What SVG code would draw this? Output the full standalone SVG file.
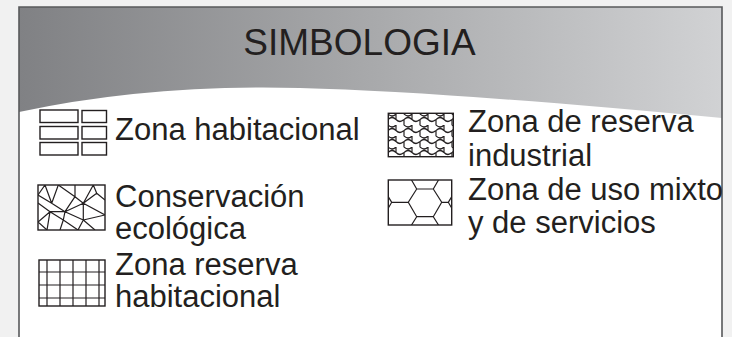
<svg xmlns="http://www.w3.org/2000/svg" width="732" height="337" viewBox="0 0 732 337">
<defs>
<linearGradient id="hdr" x1="19" y1="0" x2="722" y2="0" gradientUnits="userSpaceOnUse">
<stop offset="0" stop-color="#808184"/>
<stop offset="0.5" stop-color="#a8a9ab"/>
<stop offset="1" stop-color="#d1d2d4"/>
</linearGradient>
<pattern id="ind" x="388" y="114" width="16" height="11" patternUnits="userSpaceOnUse">
<path d="M0,0 q4,4 8,0 q4,-4 8,0 M8,0 v5.5 M0,5.5 q4,-4 8,0 q4,4 8,0 M0,5.5 v5.5 M16,5.5 v5.5" fill="none" stroke="#231f20" stroke-width="1.2"/>
</pattern>
<clipPath id="c2"><rect x="38" y="185" width="67" height="45"/></clipPath>
<clipPath id="c5"><rect x="388" y="180" width="64" height="45"/></clipPath>
</defs>
<style>
.lbl{font-family:"Liberation Sans",Arial,sans-serif;font-size:31px;fill:#231f20}
.sym{fill:#fff;stroke:#231f20;stroke-width:1.4}
.ln{fill:none;stroke:#231f20;stroke-width:1.2}
</style>
<rect width="732" height="337" fill="#f1f1f1"/>
<rect x="19" y="7" width="703" height="330" fill="#fff"/>
<g id="header">
<path d="M19,7 H722 V118 Q450,92 300,88 Q150,84 19,112 Z" fill="url(#hdr)"/>
<text x="359.5" y="55" text-anchor="middle" font-family="Liberation Sans, Arial, sans-serif" font-size="37" fill="#231f20">SIMBOLOGIA</text>
</g>
<path d="M19,337 V7 H722 V337" fill="none" stroke="#58595b" stroke-width="1.6"/>

<g id="zona-habitacional">
<rect class="sym" x="40" y="110" width="38" height="12.5"/>
<rect class="sym" x="82" y="110.5" width="24.5" height="12"/>
<rect class="sym" x="40" y="126.5" width="38" height="12.5"/>
<rect class="sym" x="82" y="126.5" width="24.5" height="12.5"/>
<rect class="sym" x="40" y="142.5" width="38" height="12.5"/>
<rect class="sym" x="82" y="142.5" width="24.5" height="12.5"/>
<text class="lbl" x="115" y="140">Zona habitacional</text>
</g>

<g id="conservacion-ecologica">
<rect class="sym" x="38" y="185" width="67" height="45"/>
<g clip-path="url(#c2)">
<path class="ln" d="M45,185 L38,195 M45,185 L51.7,203.3 M58.3,185 L51.7,203.3 M58.3,185 L75,196.7 M75,185 L75,196.7 M93.3,185 L96.7,193.3 M93.3,185 L83.3,203.3 M96.7,193.3 L105,200 M96.7,193.3 L83.3,203.3 M75,196.7 L83.3,203.3 M75,196.7 L65,211.7 M51.7,203.3 L65,211.7 M38,195 L51.7,203.3 M50,211.7 L65,211.7 M38,203 L50,211.7 M50,211.7 L38,222 M50,211.7 L47,230 M50,211.7 L63.3,220 M65,211.7 L83.3,203.3 M65,211.7 L63.3,220 M83.3,203.3 L83.3,220 M83.3,203.3 L105,215 M83.3,220 L78,230 M83.3,220 L95,230 M83.3,220 L105,215 M63.3,220 L60,230 M63.3,220 L78,230 M38,222 L47,230 M65,211.7 L83.3,220"/>
</g>
<text class="lbl" x="115" y="207">Conservación</text>
<text class="lbl" x="115" y="239">ecológica</text>
</g>

<g id="zona-reserva-habitacional">
<rect class="sym" x="39" y="260" width="66" height="46"/>
<path class="ln" d="M47,260 V306 M60,260 V306 M73,260 V306 M86,260 V306 M99,260 V306 M39,272 H105 M39,285 H105 M39,298 H105"/>
<text class="lbl" x="115" y="275">Zona reserva</text>
<text class="lbl" x="115" y="307">habitacional</text>
</g>

<g id="zona-reserva-industrial">
<rect x="388.3" y="113.3" width="65" height="43.4" fill="#fff"/>
<rect x="388.3" y="113.3" width="65" height="43.4" fill="url(#ind)" stroke="#231f20" stroke-width="1.4"/>
<text class="lbl" x="468" y="132">Zona de reserva</text>
<text class="lbl" x="468" y="166">industrial</text>
</g>

<g id="zona-uso-mixto">
<rect class="sym" x="388.3" y="180" width="63.4" height="45"/>
<g clip-path="url(#c5)">
<path class="ln" d="M416.7,189 H433.3 L441.7,202.3 L433.3,216.7 H416.7 L408.3,202.3 Z M416.7,189 L411.5,180 M433.3,189 L438.5,180 M416.7,216.7 L411.5,225 M433.3,216.7 L438.5,225 M408.3,202.3 H391.7 L386,193 M391.7,202.3 L386,212 M441.7,202.3 H448.3 L454,193 M448.3,202.3 L454,212"/>
</g>
<text class="lbl" x="468" y="200">Zona de uso mixto</text>
<text class="lbl" x="468" y="233">y de servicios</text>
</g>
</svg>
